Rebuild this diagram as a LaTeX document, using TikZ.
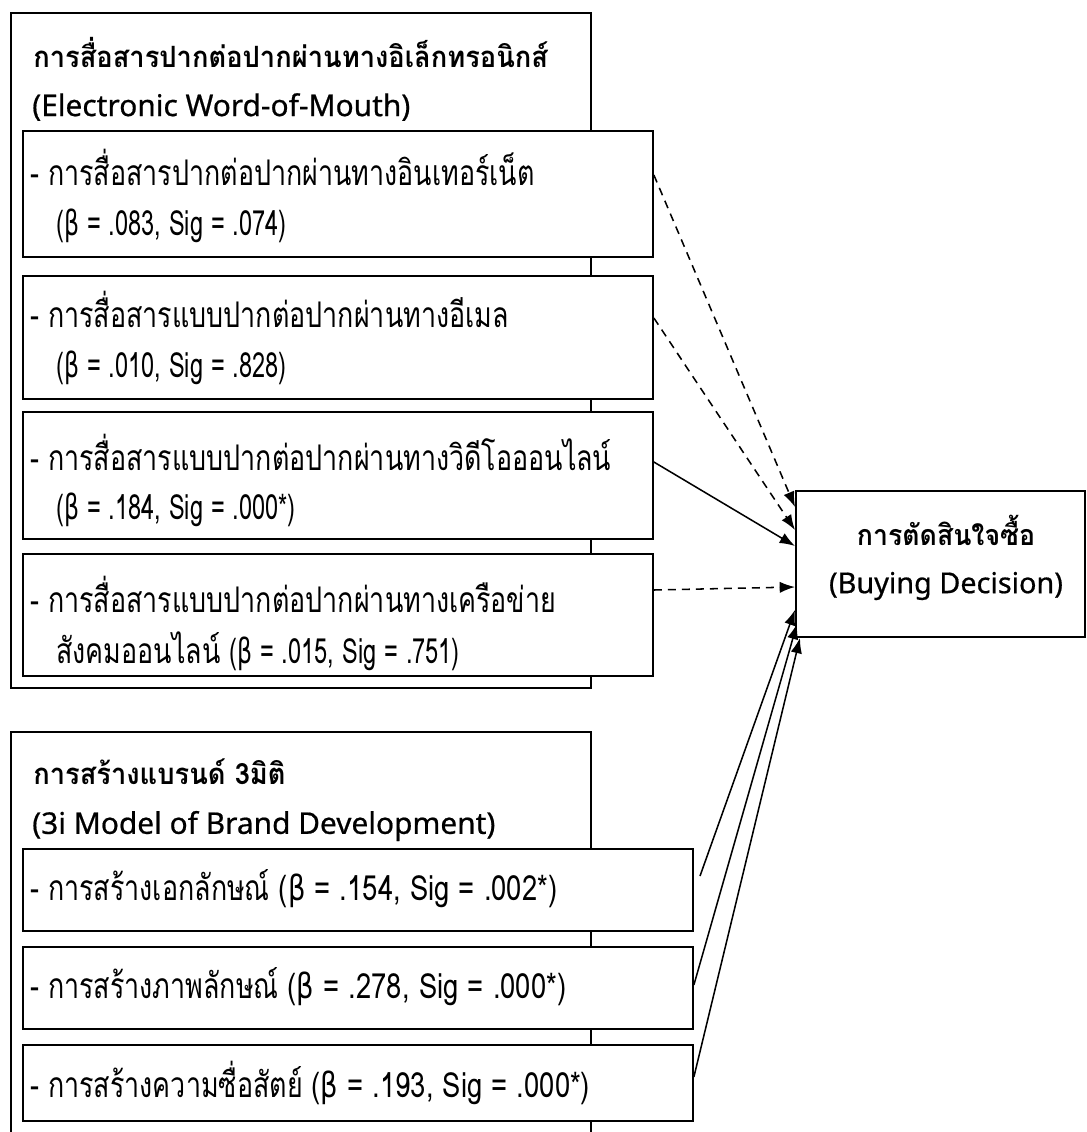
\documentclass[tikz,border=0pt]{standalone}
\usepackage{fontspec}
\setmainfont{Loma}[Script=Thai]
\newfontfamily\bodyf{Loma}[Script=Thai, FakeStretch=0.76]
\newfontfamily\bodylf{Loma}[FakeStretch=0.68]
\newfontfamily\bodycf{Loma}[FakeStretch=0.79]
\newfontfamily\headf{Loma}[Script=Thai, FakeStretch=0.93]
\newfontfamily\latf{Noto Sans}[FakeBold=0.6]
\newfontfamily\grkf{DejaVu Sans}[FakeStretch=0.68]
\newfontfamily\grkc{DejaVu Sans}[FakeStretch=0.79]
\newcommand\bodyl{\bodylf\fontsize{26pt}{30pt}\selectfont}
\newcommand\bodyc{\bodycf\fontsize{26pt}{30pt}\selectfont}
\newcommand\bt{{\grkf β}}
\newcommand\btc{{\grkc β}}
\usetikzlibrary{arrows.meta,calc}
\begin{document}
\begin{tikzpicture}[x=0.75pt,y=-0.75pt,
  boxs/.style={draw, line width=1.4pt, fill=white, rectangle, inner sep=0pt, anchor=north west},
  body/.style={anchor=west, inner sep=0pt, font=\bodyf\fontsize{26.5pt}{30pt}\selectfont},
  head/.style={anchor=west, inner sep=0pt, font=\headf\bfseries\fontsize{22pt}{26pt}\selectfont},
  headl/.style={anchor=west, inner sep=0pt, font=\latf\fontsize{22.4pt}{26pt}\selectfont},
  headc/.style={anchor=center, inner sep=0pt, font=\headf\bfseries\fontsize{21.5pt}{26pt}\selectfont},
  headcl/.style={anchor=center, inner sep=0pt, font=\latf\fontsize{21.6pt}{26pt}\selectfont},
  conn/.style={line width=1.15pt, -{Latex[length=11.5pt,width=8.5pt]}},
  dconn/.style={conn, dash pattern=on 6pt off 4.5pt}]
\path[use as bounding box] (0,0) rectangle (1086,1132);
\fill[white] (0,0) rectangle (1086,1132);

% ---- outer box 1
\node[boxs, minimum width=580*0.75pt, minimum height=675*0.75pt] (eo) at (10,12) {};
\node[head] (eot1) at (33,52) {การสื่อสารปากต่อปากผ่านทางอิเล็กทรอนิกส์};
\node[headl] (eot2) at (32,107) {(Electronic Word-of-Mouth)};

\node[boxs, minimum width=630*0.75pt, minimum height=126*0.75pt] (b1) at (22,130) {};
\node[body] (b1a) at (30,167) {- การสื่อสารปากต่อปากผ่านทางอินเทอร์เน็ต};
\node[body] (b1b) at (56,226) {\bodyl(\bt{} = .083, Sig = .074)};

\node[boxs, minimum width=630*0.75pt, minimum height=123*0.75pt] (b2) at (22,275) {};
\node[body] (b2a) at (30,309) {- การสื่อสารแบบปากต่อปากผ่านทางอีเมล};
\node[body] (b2b) at (56,368) {\bodyl(\bt{} = .010, Sig = .828)};

\node[boxs, minimum width=630*0.75pt, minimum height=127*0.75pt] (b3) at (22,411) {};
\node[body] (b3a) at (30,452) {- การสื่อสารแบบปากต่อปากผ่านทางวิดีโอออนไลน์};
\node[body] (b3b) at (56,510) {\bodyl(\bt{} = .184, Sig = .000*)};

\node[boxs, minimum width=630*0.75pt, minimum height=122*0.75pt] (b4) at (22,553) {};
\node[body] (b4a) at (30,594) {- การสื่อสารแบบปากต่อปากผ่านทางเครือข่าย};
\node[body] (b4b) at (56,651) {สังคมออนไลน์ {\bodyl(\bt{} = .015, Sig = .751)}};

% ---- decision box
\node[boxs, minimum width=289*0.75pt, minimum height=146*0.75pt] (dec) at (795,490) {};
\node[headc] (dect1) at (946,530) {การตัดสินใจซื้อ};
\node[headcl] (dect2) at (946,586) {(Buying Decision)};

% ---- outer box 2
\node[boxs, minimum width=580*0.75pt, minimum height=420*0.75pt] (bo) at (10,731) {};
\node[head] (bot1) at (33,772) {การสร้างแบรนด์ 3มิติ};
\node[headl] (bot2) at (32,826) {(3i Model of Brand Development)};

\node[boxs, minimum width=670*0.75pt, minimum height=82*0.75pt] (c1) at (22,848) {};
\node[body] (c1a) at (30,889) {- การสร้างเอกลักษณ์ {\bodyc(\btc{} = .154, Sig = .002*)}};
\node[boxs, minimum width=670*0.75pt, minimum height=82*0.75pt] (c2) at (22,946) {};
\node[body] (c2a) at (30,987) {- การสร้างภาพลักษณ์ {\bodyc(\btc{} = .278, Sig = .000*)}};
\node[boxs, minimum width=670*0.75pt, minimum height=76*0.75pt] (c3) at (22,1044) {};
\node[body] (c3a) at (30,1083) {- การสร้างความซื่อสัตย์ {\bodyc(\btc{} = .193, Sig = .000*)}};

% ---- connectors
\coordinate (f1s) at (700,876);
\draw[dconn] ($(b1.north east)+(0,45)$) -- ($(dec.north west)+(0,17)$);
\draw[dconn] ($(b2.north east)+(0,43)$) -- ($(dec.north west)+(0,40)$);
\draw[conn]  ($(b3.north east)+(0,51)$) -- ($(dec.north west)+(0,56)$);
\draw[dconn] ($(b4.north east)+(0,37)$) -- ($(dec.north west)+(0,97)$);
\draw[conn] (f1s) -- ($(dec.south west)+(0,-28)$);
\draw[conn] ($(c2.north east)+(0,39)$) -- ($(dec.south west)+(2,-14)$);
\draw[conn] ($(c3.north east)+(0,33)$) -- ($(dec.south west)+(5,0)$);
\end{tikzpicture}
\end{document}
